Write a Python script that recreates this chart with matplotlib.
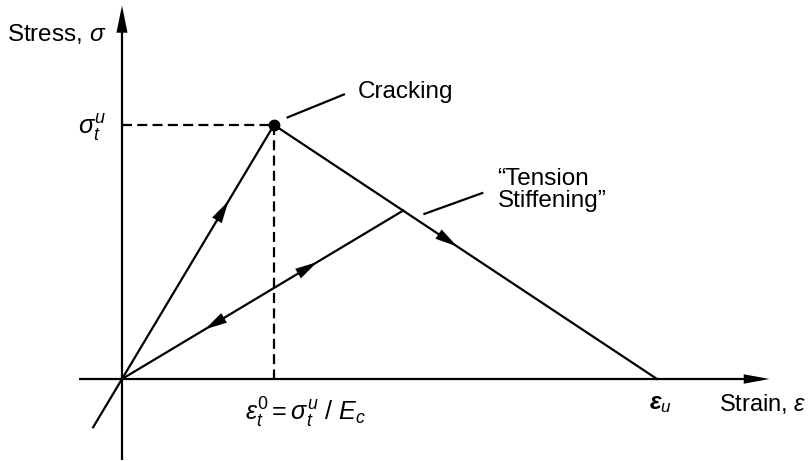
import matplotlib
matplotlib.use("Agg")
import matplotlib.pyplot as plt

plt.rcParams['font.family'] = ['Liberation Sans', 'DejaVu Sans']
plt.rcParams['mathtext.fontset'] = 'custom'
plt.rcParams['mathtext.rm'] = 'Liberation Sans'
plt.rcParams['mathtext.it'] = 'Liberation Sans:italic'
plt.rcParams['mathtext.bf'] = 'Liberation Sans:bold:italic'
plt.rcParams['lines.scale_dashes'] = False

# Normalised strain (units of cracking strain) and stress (units of tensile strength)
eps_crack = 1.0
sig_crack = 1.0
eps_ult = 3.52
unload_point = (1.85, 0.663)      # point on softening branch where unloading starts
loading_tail = (-0.19, -0.19)     # loading line extended into compression
x_axis_range = (-0.283, 4.26)
y_axis_range = (-0.32, 1.47)

# Arrow tips along the branches (fraction of each segment)
arrow_load = 0.70
arrow_soft = 0.478
arrow_unload_up = 0.694
arrow_unload_down = 0.295

fig = plt.figure(figsize=(8.09, 4.61), dpi=100)
ax = fig.add_axes([0, 0, 1, 1])
ax.set_xlim(-0.8026, 4.52)
ax.set_ylim(-0.3228, 1.492)
ax.axis('off')

lw = 1.6
k = 'black'

def head(p0, p1, frac, length=1.6, width=0.4):
    x = p0[0] + (p1[0] - p0[0]) * frac
    y = p0[1] + (p1[1] - p0[1]) * frac
    dx = (p1[0] - p0[0]) * 0.02
    dy = (p1[1] - p0[1]) * 0.02
    ax.annotate('', xy=(x, y), xytext=(x - dx, y - dy),
                arrowprops=dict(arrowstyle=f'-|>,head_length={length},head_width={width}',
                                color=k, lw=0.01, mutation_scale=10,
                                shrinkA=0, shrinkB=0))

# axes with arrow heads
ax.plot([x_axis_range[0], x_axis_range[1] - 0.05], [0, 0], color=k, lw=lw, solid_capstyle='butt')
ax.plot([0, 0], [y_axis_range[0], y_axis_range[1] - 0.03], color=k, lw=lw, solid_capstyle='butt')
ax.annotate('', xy=(x_axis_range[1], 0), xytext=(x_axis_range[1] - 0.1, 0),
            arrowprops=dict(arrowstyle='-|>,head_length=1.85,head_width=0.34', color=k,
                            lw=0.01, mutation_scale=10, shrinkA=0, shrinkB=0))
ax.annotate('', xy=(0, y_axis_range[1]), xytext=(0, y_axis_range[1] - 0.1),
            arrowprops=dict(arrowstyle='-|>,head_length=1.95,head_width=0.4', color=k,
                            lw=0.01, mutation_scale=10, shrinkA=0, shrinkB=0))

# dashed guides to the cracking point
ax.plot([0, eps_crack], [sig_crack, sig_crack], color=k, lw=lw, dashes=(7.2, 3.8))
ax.plot([eps_crack, eps_crack], [sig_crack, 0], color=k, lw=lw, dashes=(7.2, 3.8))

# loading branch (extended below origin)
ax.plot([loading_tail[0], eps_crack], [loading_tail[1], sig_crack], color=k, lw=lw)
head((0, 0), (eps_crack, sig_crack), arrow_load)

# softening branch
ax.plot([eps_crack, eps_ult], [sig_crack, 0], color=k, lw=lw)
head((eps_crack, sig_crack), (eps_ult, 0), arrow_soft)

# unloading / reloading branch
ax.plot([0, unload_point[0]], [0, unload_point[1]], color=k, lw=lw)
head((0, 0), unload_point, arrow_unload_up)
head(unload_point, (0, 0), 1 - arrow_unload_down)

# cracking point
ax.plot([eps_crack], [sig_crack], 'o', color=k, markersize=7.5)

# leaders
ax.plot([1.09, 1.46], [1.03, 1.12], color=k, lw=lw)
ax.plot([1.99, 2.37], [0.65, 0.732], color=k, lw=lw)

fs = 17.5
ax.text(1.55, 1.13, 'Cracking', fontsize=fs, ha='left', va='center')
ax.text(2.47, 0.745, '\u201cTension\nStiffening\u201d', fontsize=fs, ha='left',
        va='center', linespacing=1.0)
ax.text(-0.10, 1.36, r'Stress, $\sigma$', fontsize=fs, ha='right', va='center')
ax.text(-0.10, 0.99, r'$\sigma_t^u$', fontsize=fs + 1, ha='right', va='center')
ax.text(0.81, -0.135, r'$\varepsilon_t^0 = \sigma_t^u\ /\ E_c$', fontsize=18.2,
        ha='left', va='center')
ax.text(3.47, -0.10, r'$\boldsymbol{\varepsilon}_u$', fontsize=fs, ha='left', va='center')
ax.text(4.505, -0.10, r'Strain, $\varepsilon$', fontsize=17, ha='right', va='center')

fig.savefig('out.png', dpi=100)
